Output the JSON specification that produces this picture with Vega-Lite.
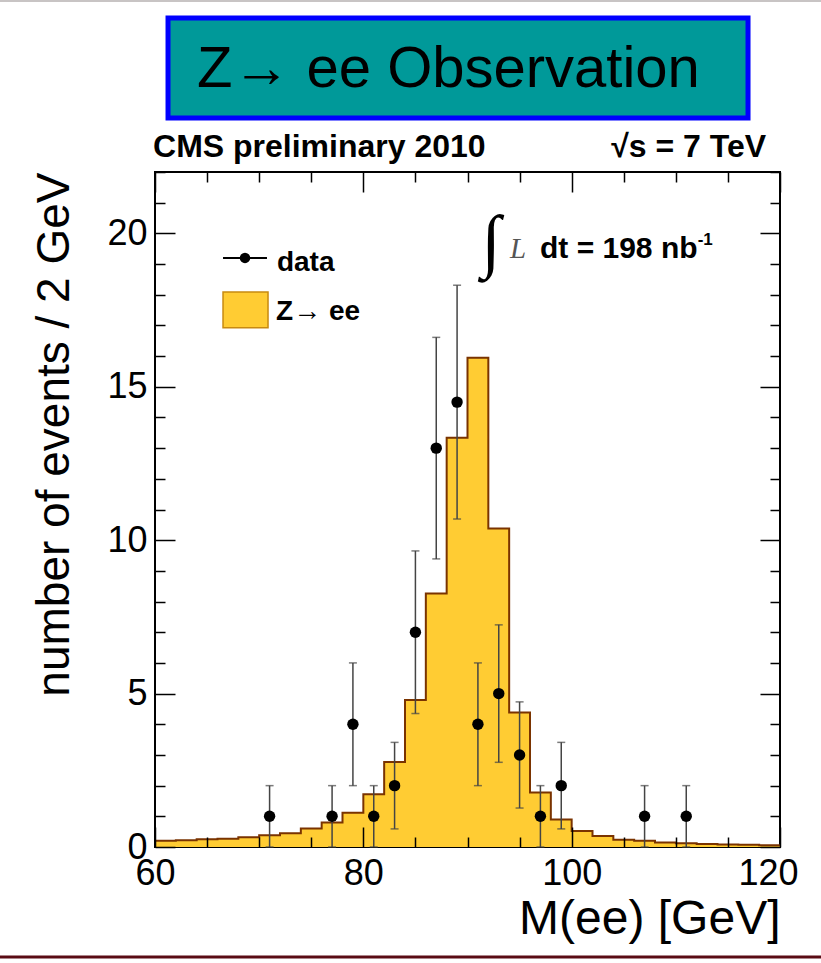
{
  "$schema": "https://vega.github.io/schema/vega-lite/v6.json",
  "width": 625,
  "height": 675,
  "autosize": {"type": "none"},
  "padding": {"left": 155, "top": 172, "right": 41, "bottom": 116},
  "background": "white",
  "config": {
    "view": {"stroke": "black", "strokeWidth": 2},
    "font": "Liberation Sans"
  },
  "datasets": {
    "mc": [
      {"m": 60, "n": 0.2}, {"m": 62, "n": 0.22}, {"m": 64, "n": 0.25}, {"m": 66, "n": 0.27},
      {"m": 68, "n": 0.32}, {"m": 70, "n": 0.38}, {"m": 72, "n": 0.45}, {"m": 74, "n": 0.6},
      {"m": 76, "n": 0.8}, {"m": 78, "n": 1.12}, {"m": 80, "n": 1.72}, {"m": 82, "n": 2.77},
      {"m": 84, "n": 4.79}, {"m": 86, "n": 8.26}, {"m": 88, "n": 13.34}, {"m": 90, "n": 15.95},
      {"m": 92, "n": 10.38}, {"m": 94, "n": 4.38}, {"m": 96, "n": 1.78}, {"m": 98, "n": 0.9},
      {"m": 100, "n": 0.52}, {"m": 102, "n": 0.36}, {"m": 104, "n": 0.24}, {"m": 106, "n": 0.2},
      {"m": 108, "n": 0.15}, {"m": 110, "n": 0.12}, {"m": 112, "n": 0.1}, {"m": 114, "n": 0.08},
      {"m": 116, "n": 0.07}, {"m": 118, "n": 0.06}, {"m": 120, "n": 0.06}
    ],
    "obs": [
      {"m": 71, "n": 1, "lo": 0, "hi": 2},
      {"m": 77, "n": 1, "lo": 0, "hi": 2},
      {"m": 79, "n": 4, "lo": 2, "hi": 6},
      {"m": 81, "n": 1, "lo": 0, "hi": 2},
      {"m": 83, "n": 2, "lo": 0.59, "hi": 3.41},
      {"m": 85, "n": 7, "lo": 4.35, "hi": 9.65},
      {"m": 87, "n": 13, "lo": 9.39, "hi": 16.61},
      {"m": 89, "n": 14.5, "lo": 10.69, "hi": 18.31},
      {"m": 91, "n": 4, "lo": 2, "hi": 6},
      {"m": 93, "n": 5, "lo": 2.76, "hi": 7.24},
      {"m": 95, "n": 3, "lo": 1.27, "hi": 4.73},
      {"m": 97, "n": 1, "lo": 0, "hi": 2},
      {"m": 99, "n": 2, "lo": 0.59, "hi": 3.41},
      {"m": 107, "n": 1, "lo": 0, "hi": 2},
      {"m": 111, "n": 1, "lo": 0, "hi": 2}
    ]
  },
  "resolve": {"axis": {"x": "independent", "y": "independent"}},
  "layer": [
    {
      "data": {"name": "mc"},
      "mark": {"type": "area", "interpolate": "step-after", "color": "#ffcc33"},
      "encoding": {
        "x": {"field": "m", "type": "quantitative",
          "scale": {"domain": [60, 120], "nice": false, "zero": false},
          "axis": {
            "orient": "bottom",
            "values": [60, 65, 70, 75, 80, 85, 90, 95, 100, 105, 110, 115, 120],
            "labelExpr": "datum.value % 20 === 0 ? datum.label : ''",
            "tickSize": {"condition": {"test": "datum.value % 20 === 0", "value": -20}, "value": -10},
            "labelOffset": {"condition": {"test": "datum.value === 120", "value": -12}, "value": 0},
            "tickColor": "black", "tickWidth": 1.5,
            "domain": false, "grid": false, "zindex": 1,
            "labelFont": "Liberation Sans", "labelFontSize": 36, "labelColor": "black",
            "labelPadding": 29, "labelFlush": false, "labelOverlap": false, "labelBound": false,
            "title": "M(ee) [GeV]", "titleFont": "Liberation Sans", "titleFontSize": 48,
            "titleFontWeight": "normal", "titleColor": "black", "titleAnchor": "end", "titlePadding": -6
          }
        },
        "y": {"field": "n", "type": "quantitative",
          "scale": {"domain": [0, 22], "nice": false},
          "axis": {
            "orient": "left",
            "values": [0,1,2,3,4,5,6,7,8,9,10,11,12,13,14,15,16,17,18,19,20,21,22],
            "labelExpr": "datum.value % 5 === 0 ? datum.label : ''",
            "tickSize": {"condition": {"test": "datum.value % 5 === 0", "value": -20}, "value": -10},
            "tickColor": "black", "tickWidth": 1.5,
            "domain": false, "grid": false, "zindex": 1,
            "labelFont": "Liberation Sans", "labelFontSize": 36, "labelColor": "black",
            "labelPadding": 28, "labelFlush": false, "labelOverlap": false, "labelBound": false,
            "title": "number of events / 2 GeV", "titleFont": "Liberation Sans", "titleFontSize": 46,
            "titleFontWeight": "normal", "titleColor": "black", "titleAnchor": "end", "titlePadding": 28
          }
        }
      }
    },
    {
      "data": {"name": "mc"},
      "mark": {"type": "line", "interpolate": "step-after", "color": "#7a3300", "strokeWidth": 2},
      "encoding": {
        "x": {"field": "m", "type": "quantitative", "scale": {"domain": [60, 120], "nice": false, "zero": false}, "axis": null},
        "y": {"field": "n", "type": "quantitative", "scale": {"domain": [0, 22], "nice": false}, "axis": null}
      }
    },
    {
      "data": {"name": "obs"},
      "mark": {"type": "rule", "color": "#444444", "strokeWidth": 1.5},
      "encoding": {
        "x": {"field": "m", "type": "quantitative", "scale": {"domain": [60, 120], "nice": false, "zero": false}, "axis": null},
        "y": {"field": "lo", "type": "quantitative", "scale": {"domain": [0, 22], "nice": false}, "axis": null},
        "y2": {"field": "hi"}
      }
    },
    {
      "data": {"name": "obs"},
      "mark": {"type": "tick", "orient": "horizontal", "color": "#444444", "size": 8, "thickness": 1.5},
      "encoding": {
        "x": {"field": "m", "type": "quantitative", "scale": {"domain": [60, 120], "nice": false, "zero": false}, "axis": null},
        "y": {"field": "hi", "type": "quantitative", "scale": {"domain": [0, 22], "nice": false}, "axis": null}
      }
    },
    {
      "data": {"name": "obs"},
      "mark": {"type": "tick", "orient": "horizontal", "color": "#444444", "size": 8, "thickness": 1.5},
      "encoding": {
        "x": {"field": "m", "type": "quantitative", "scale": {"domain": [60, 120], "nice": false, "zero": false}, "axis": null},
        "y": {"field": "lo", "type": "quantitative", "scale": {"domain": [0, 22], "nice": false}, "axis": null}
      }
    },
    {
      "data": {"name": "obs"},
      "mark": {"type": "circle", "color": "black", "opacity": 1, "size": 130},
      "encoding": {
        "x": {"field": "m", "type": "quantitative", "scale": {"domain": [60, 120], "nice": false, "zero": false},
          "axis": {
            "orient": "top",
            "values": [60, 65, 70, 75, 80, 85, 90, 95, 100, 105, 110, 115, 120],
            "labels": false,
            "tickSize": {"condition": {"test": "datum.value % 20 === 0", "value": -20}, "value": -10},
            "tickColor": "black", "tickWidth": 1.5, "domain": false, "grid": false, "title": null, "zindex": 1
          }
        },
        "y": {"field": "n", "type": "quantitative", "scale": {"domain": [0, 22], "nice": false},
          "axis": {
            "orient": "right",
            "values": [0,1,2,3,4,5,6,7,8,9,10,11,12,13,14,15,16,17,18,19,20,21,22],
            "labels": false,
            "tickSize": {"condition": {"test": "datum.value % 5 === 0", "value": -20}, "value": -10},
            "tickColor": "black", "tickWidth": 1.5, "domain": false, "grid": false, "title": null, "zindex": 1
          }
        }
      }
    },
    {
      "data": {"values": [{}]},
      "mark": {"type": "rule", "color": "black", "strokeWidth": 2},
      "encoding": {
        "x": {"datum": 66.53, "type": "quantitative", "scale": {"domain": [60, 120], "nice": false, "zero": false}, "axis": null},
        "x2": {"datum": 70.75},
        "y": {"datum": 19.2, "type": "quantitative", "scale": {"domain": [0, 22], "nice": false}, "axis": null}
      }
    },
    {
      "data": {"values": [{}]},
      "mark": {"type": "circle", "color": "black", "opacity": 1, "size": 110},
      "encoding": {
        "x": {"datum": 68.64, "type": "quantitative", "scale": {"domain": [60, 120], "nice": false, "zero": false}, "axis": null},
        "y": {"datum": 19.2, "type": "quantitative", "scale": {"domain": [0, 22], "nice": false}, "axis": null}
      }
    },
    {
      "data": {"values": [{}]},
      "mark": {"type": "rect", "color": "#ffcc33", "stroke": "#c88a10", "strokeWidth": 1.5},
      "encoding": {
        "x": {"datum": 66.53, "type": "quantitative", "scale": {"domain": [60, 120], "nice": false, "zero": false}, "axis": null},
        "x2": {"datum": 70.85},
        "y": {"datum": 18.09, "type": "quantitative", "scale": {"domain": [0, 22], "nice": false}, "axis": null},
        "y2": {"datum": 16.92}
      }
    },
    {
      "data": {"values": [{}]},
      "mark": {"type": "text", "text": "data", "font": "Liberation Sans", "fontWeight": "bold", "fontSize": 28, "align": "left", "baseline": "middle", "color": "black"},
      "encoding": {
        "x": {"datum": 71.7, "type": "quantitative", "scale": {"domain": [60, 120], "nice": false, "zero": false}, "axis": null},
        "y": {"datum": 19.05, "type": "quantitative", "scale": {"domain": [0, 22], "nice": false}, "axis": null}
      }
    },
    {
      "data": {"values": [{}]},
      "mark": {"type": "text", "text": "Z→ ee", "font": "Liberation Sans", "fontWeight": "bold", "fontSize": 28, "align": "left", "baseline": "middle", "color": "black"},
      "encoding": {
        "x": {"datum": 71.62, "type": "quantitative", "scale": {"domain": [60, 120], "nice": false, "zero": false}, "axis": null},
        "y": {"datum": 17.44, "type": "quantitative", "scale": {"domain": [0, 22], "nice": false}, "axis": null}
      }
    },
    {
      "data": {"values": [{}]},
      "mark": {"type": "text", "text": "∫", "font": "Liberation Serif", "fontSize": 70, "align": "center", "baseline": "middle", "color": "black"},
      "encoding": {
        "x": {"datum": 92.26, "type": "quantitative", "scale": {"domain": [60, 120], "nice": false, "zero": false}, "axis": null},
        "y": {"datum": 19.69, "type": "quantitative", "scale": {"domain": [0, 22], "nice": false}, "axis": null}
      }
    },
    {
      "data": {"values": [{}]},
      "mark": {"type": "text", "text": "L", "font": "Liberation Serif", "fontStyle": "italic", "fontSize": 29, "align": "left", "baseline": "alphabetic", "color": "#555555"},
      "encoding": {
        "x": {"datum": 94.08, "type": "quantitative", "scale": {"domain": [60, 120], "nice": false, "zero": false}, "axis": null},
        "y": {"datum": 19.2, "type": "quantitative", "scale": {"domain": [0, 22], "nice": false}, "axis": null}
      }
    },
    {
      "data": {"values": [{}]},
      "mark": {"type": "text", "text": "dt = 198 nb", "font": "Liberation Sans", "fontWeight": "bold", "fontSize": 30, "align": "left", "baseline": "alphabetic", "color": "black"},
      "encoding": {
        "x": {"datum": 96.96, "type": "quantitative", "scale": {"domain": [60, 120], "nice": false, "zero": false}, "axis": null},
        "y": {"datum": 19.2, "type": "quantitative", "scale": {"domain": [0, 22], "nice": false}, "axis": null}
      }
    },
    {
      "data": {"values": [{}]},
      "mark": {"type": "text", "text": "-1", "font": "Liberation Sans", "fontWeight": "bold", "fontSize": 17, "align": "left", "baseline": "alphabetic", "color": "black"},
      "encoding": {
        "x": {"datum": 112.1, "type": "quantitative", "scale": {"domain": [60, 120], "nice": false, "zero": false}, "axis": null},
        "y": {"datum": 19.62, "type": "quantitative", "scale": {"domain": [0, 22], "nice": false}, "axis": null}
      }
    },
    {
      "data": {"values": [{}]},
      "mark": {"type": "text", "text": "CMS preliminary 2010", "font": "Liberation Sans", "fontWeight": "bold", "fontSize": 32, "align": "left", "baseline": "alphabetic", "color": "black"},
      "encoding": {
        "x": {"datum": 59.81, "type": "quantitative", "scale": {"domain": [60, 120], "nice": false, "zero": false}, "axis": null},
        "y": {"datum": 22.49, "type": "quantitative", "scale": {"domain": [0, 22], "nice": false}, "axis": null}
      }
    },
    {
      "data": {"values": [{}]},
      "mark": {"type": "text", "text": "√s = 7 TeV", "font": "Liberation Sans", "fontWeight": "bold", "fontSize": 32, "align": "right", "baseline": "alphabetic", "color": "black"},
      "encoding": {
        "x": {"datum": 118.66, "type": "quantitative", "scale": {"domain": [60, 120], "nice": false, "zero": false}, "axis": null},
        "y": {"datum": 22.49, "type": "quantitative", "scale": {"domain": [0, 22], "nice": false}, "axis": null}
      }
    },
    {
      "data": {"values": [{}]},
      "mark": {"type": "rect", "color": "#009999", "stroke": "#0000ff", "strokeWidth": 5},
      "encoding": {
        "x": {"datum": 61.25, "type": "quantitative", "scale": {"domain": [60, 120], "nice": false, "zero": false}, "axis": null},
        "x2": {"datum": 116.93},
        "y": {"datum": 27.02, "type": "quantitative", "scale": {"domain": [0, 22], "nice": false}, "axis": null},
        "y2": {"datum": 23.76}
      }
    },
    {
      "data": {"values": [{}]},
      "mark": {"type": "text", "text": "Z→ ee Observation", "font": "Liberation Sans", "fontSize": 58, "align": "left", "baseline": "middle", "color": "black"},
      "encoding": {
        "x": {"datum": 64.03, "type": "quantitative", "scale": {"domain": [60, 120], "nice": false, "zero": false}, "axis": null},
        "y": {"datum": 25.32, "type": "quantitative", "scale": {"domain": [0, 22], "nice": false}, "axis": null}
      }
    },
    {
      "data": {"values": [{}]},
      "mark": {"type": "rule", "color": "#c8c4c4", "strokeWidth": 2},
      "encoding": {
        "x": {"datum": 45.12, "type": "quantitative", "scale": {"domain": [60, 120], "nice": false, "zero": false}, "axis": null},
        "x2": {"datum": 123.94},
        "y": {"datum": 27.57, "type": "quantitative", "scale": {"domain": [0, 22], "nice": false}, "axis": null}
      }
    },
    {
      "data": {"values": [{}]},
      "mark": {"type": "rule", "color": "#5a0b14", "strokeWidth": 3},
      "encoding": {
        "x": {"datum": 45.12, "type": "quantitative", "scale": {"domain": [60, 120], "nice": false, "zero": false}, "axis": null},
        "x2": {"datum": 123.94},
        "y": {"datum": -3.585, "type": "quantitative", "scale": {"domain": [0, 22], "nice": false}, "axis": null}
      }
    }
  ]
}
